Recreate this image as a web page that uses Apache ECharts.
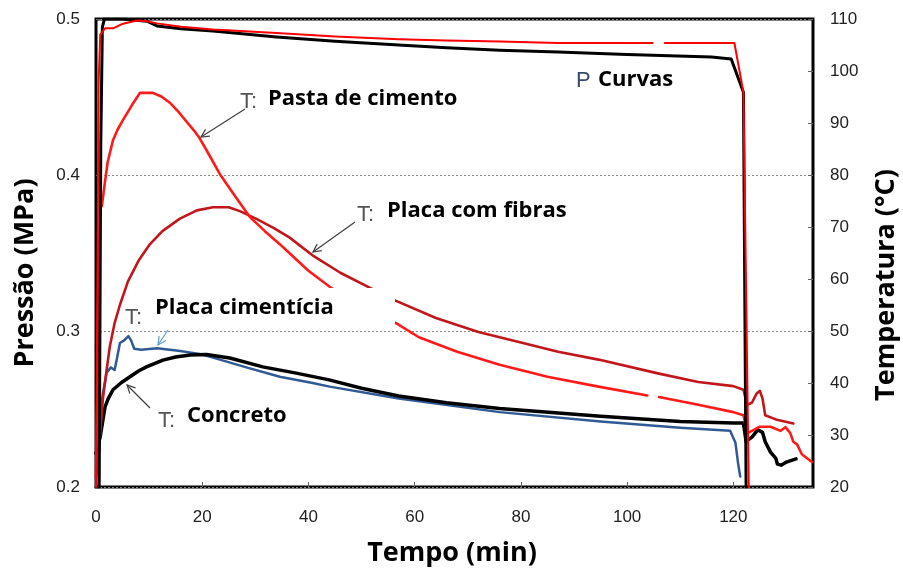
<!DOCTYPE html>
<html>
<head>
<meta charset="utf-8">
<script src="https://cdn.jsdelivr.net/npm/echarts@6/dist/echarts.min.js"></script>
<style>
  html, body { margin: 0; padding: 0; background: #fff; }
  #chart { width: 903px; height: 576px; }
</style>
</head>
<body>
<div id="chart"></div>
<script>
// Axis ranges / tick labels
const tempoTicks = [0, 20, 40, 60, 80, 100, 120];
const tempoMax = 135;
const pressaoTicks = [0.2, 0.3, 0.4, 0.5];
const temperaturaTicks = [20, 30, 40, 50, 60, 70, 80, 90, 100, 110];

// P curves: [tempo (min), pressão (MPa)]
const pressaoPreta = [
  [0, 0.2], [0.6, 0.2], [0.9, 0.42], [1.2, 0.495], [1.6, 0.5], [5, 0.5], [9.6, 0.4986],
  [11.5, 0.4955], [16, 0.4938], [22, 0.4923], [34, 0.4885], [45, 0.4858], [57, 0.4833],
  [66, 0.4815], [76, 0.48], [87, 0.4788], [100, 0.4772], [115.9, 0.4756], [119.6, 0.4744],
  [121.9, 0.453], [122.4, 0.2]
];
const pressaoVermelha = [
  [0, 0.2], [0.3, 0.35], [0.5, 0.46], [0.8, 0.49], [1.7, 0.494], [3.2, 0.494], [5.1, 0.497],
  [7.7, 0.499], [9.6, 0.4986], [11.5, 0.4972], [16, 0.495], [22, 0.4932], [34, 0.491],
  [45, 0.4888], [57, 0.487], [66, 0.4862], [76, 0.4855], [87, 0.4846], [104.8, 0.4846],
  [105.9, '-'], [107.1, 0.4846], [120.2, 0.4846], [121.9, 0.453], [122.9, 0.2]
];

// T curves: [tempo (min), temperatura (°C)]
const pastaCimento = [
  [0, 22], [0.3, 40], [0.5, 62], [0.8, 75], [1.1, 74], [1.6, 78], [2.2, 82.5], [3.2, 86.7],
  [4.1, 88.8], [5.1, 90.6], [6.8, 93.5], [8.3, 95.8], [10.7, 95.8], [12.3, 95.1], [13.9, 93.9],
  [15.5, 92.2], [17.1, 90.2], [18.5, 88.5], [19.5, 87.1], [21.4, 83.7], [23.3, 80.2],
  [26, 76.2], [28.9, 72], [31.8, 69.2], [34.6, 66.7], [36.4, 65], [40, 61.6], [44, 58.5],
  [50, 54.5], [56.5, 51.5], [60.8, 48.8], [68, 46], [76, 43.5], [85, 41.2], [94.6, 39.3],
  [103.8, 37.6], [104.9, '-'], [106, 37.3], [113.4, 35.8], [120, 34.4], [121.9, 33.8],
  [122.6, 30.3], [123.5, 30.8], [125, 31.6], [127, 31.6], [128.9, 30.8], [129.8, 31.5],
  [130.7, 30.4], [131.3, 28.7], [132, 28.2], [132.9, 26.3], [134.8, 24.8]
];
const placaFibras = [
  [0, 22], [0.5, 26], [0.9, 32], [1.3, 37], [2, 42.5], [2.6, 47], [3.5, 51.5], [4.5, 55],
  [6, 59.5], [8, 63.5], [10, 66.5], [12.5, 69.2], [15.8, 71.6], [19, 73.2], [22, 73.8],
  [25, 73.8], [27.2, 73], [30.3, 71.5], [33.5, 69.8], [36.4, 68], [40.7, 64.6], [46, 61.2],
  [51.6, 58.3], [56.5, 55.8], [64, 52.5], [72, 49.8], [80, 47.8], [87, 46], [94.6, 44.5],
  [106, 41.8], [113.4, 40.2], [120, 39.4], [121.9, 38.7], [122.6, 35.8], [123.5, 36.2],
  [124.4, 38], [125, 38.5], [125.5, 37], [126, 33.8], [128, 33], [131.3, 32.2]
];
const placaCimenticia = [
  [0, 25], [0.3, 29], [0.8, 34], [1.3, 38], [2, 42], [2.8, 43], [3.5, 42.5], [4, 45],
  [4.5, 47.7], [5.3, 48.2], [6.1, 49], [6.6, 48.2], [7.2, 46.6], [8.5, 46.4], [11.5, 46.7],
  [15.5, 46.2], [19.5, 45.6], [23, 44.6], [28.3, 43], [34.6, 41.2], [40.8, 40], [44, 39.3],
  [57, 37], [76, 34.4], [95, 32.6], [110, 31.4], [119.4, 30.8], [120.4, 28.5], [120.9, 24.5],
  [121.3, 22]
];
const concreto = [
  [0, 26.5], [0.3, 27.7], [0.8, 29.7], [1.7, 35.4], [2.3, 37], [3.2, 38.7], [4.8, 40.1],
  [6.4, 41.2], [8, 42.3], [9.5, 43.1], [12.6, 44.4], [15, 45], [17.7, 45.4], [20.8, 45.5],
  [25.2, 44.8], [31.4, 43.1], [37.7, 41.9], [43.9, 40.6], [50, 39], [57, 37.5], [66, 36.2],
  [76, 35.1], [95, 33.6], [110, 32.6], [120, 32.3], [121.9, 32.3], [122.4, 28.8], [123.5, 29.6],
  [124.6, 31], [125.5, 30.5], [126, 28.7], [127, 26.7], [128, 25.5], [128.3, 24.4], [129, 24.2],
  [130, 24.8], [131.8, 25.4]
];

const labelFont = { fontFamily: 'Liberation Sans', fontSize: 17, color: '#222' };
const tickStyle = { show: true, inside: true, length: 5, lineStyle: { color: '#666', width: 1 } };

function curve(name, data, color, width, yAxisIndex) {
  return {
    name, type: 'line', data, yAxisIndex,
    showSymbol: false, symbol: 'none', connectNulls: false, clip: true,
    lineStyle: { color, width, join: 'round', cap: 'round' },
    emphasis: { disabled: true }
  };
}

// Annotation arrow: shaft plus open head
function seta(x1, y1, x2, y2, cor, lw) {
  const ang = Math.atan2(y2 - y1, x2 - x1), L = 8, W = 4;
  const bx = x2 - L * Math.cos(ang), by = y2 - L * Math.sin(ang);
  const px = -Math.sin(ang), py = Math.cos(ang);
  return [
    { type: 'line', z: 100, shape: { x1, y1, x2, y2 }, style: { stroke: cor, lineWidth: lw } },
    { type: 'polyline', z: 100,
      shape: { points: [[bx + px * W, by + py * W], [x2, y2], [bx - px * W, by - py * W]] },
      style: { stroke: cor, lineWidth: lw, fill: null } }
  ];
}
function texto(t, x, y, font, fill, align, rot) {
  return { type: 'text', z: 101, x, y, rotation: rot || 0,
    style: { text: t, font, fill, textAlign: align || 'left', textVerticalAlign: 'middle' } };
}
const fontT = '22px "Liberation Sans"';
const fontB = 'bold 22px "Open Sans"';
const fontTitulo = 'bold 27px "Open Sans"';
const corT = '#555';

const chart = echarts.init(document.getElementById('chart'), null, { renderer: 'canvas' });
chart.setOption({
  animation: false,
  backgroundColor: '#fff',
  grid: { left: 96, right: 90, top: 19, bottom: 89, show: true, borderColor: '#000', borderWidth: 3, containLabel: false },
  xAxis: {
    type: 'value', min: tempoTicks[0], max: tempoMax,
    interval: tempoTicks[1] - tempoTicks[0],
    axisLine: { show: false }, axisTick: tickStyle, splitLine: { show: false },
    axisLabel: Object.assign({ margin: 22, showMaxLabel: false,
      formatter: v => (tempoTicks.includes(v) ? String(v) : '') }, labelFont)
  },
  yAxis: [
    {
      type: 'value', position: 'left',
      min: pressaoTicks[0], max: pressaoTicks[pressaoTicks.length - 1], interval: 0.1,
      axisLine: { show: false }, axisTick: tickStyle,
      splitLine: { show: true, lineStyle: { type: [2, 2], color: '#888', width: 1 } },
      axisLabel: Object.assign({ margin: 16, formatter: v => v.toFixed(1) }, labelFont)
    },
    {
      type: 'value', position: 'right',
      min: temperaturaTicks[0], max: temperaturaTicks[temperaturaTicks.length - 1], interval: 10,
      axisLine: { show: false }, axisTick: tickStyle, splitLine: { show: false },
      axisLabel: Object.assign({ margin: 17 }, labelFont)
    }
  ],
  series: [
    curve('T: Placa cimentícia', placaCimenticia, '#2f5a94', 2.5, 1),
    curve('T: Concreto', concreto, '#000000', 3.5, 1),
    curve('T: Placa com fibras', placaFibras, '#c0161c', 2.6, 1),
    curve('T: Pasta de cimento', pastaCimento, '#ff1a1a', 2.6, 1),
    curve('P: preta', pressaoPreta, '#000000', 3, 0),
    curve('P: vermelha', pressaoVermelha, '#ff0000', 2, 0)
  ],
  graphic: [
    // axis titles
    texto('Tempo (min)', 452, 553, fontTitulo, '#000', 'center'),
    texto('Pressão (MPa)', 25, 273, fontTitulo, '#000', 'center', Math.PI / 2),
    texto('Temperatura (°C)', 886, 285, fontTitulo, '#000', 'center', Math.PI / 2),
    // label box over the curves
    { type: 'rect', z: 90, shape: { x: 148, y: 288, width: 247, height: 40 }, style: { fill: '#fff' } },
    // annotations
    texto('T:', 240, 102, fontT, corT), texto('Pasta de cimento', 268, 99, fontB, '#000'),
    texto('P', 576, 81, fontT, '#3a4a6a'), texto('Curvas', 598, 80, fontB, '#000'),
    texto('T:', 357, 215, fontT, corT), texto('Placa com fibras', 387, 211, fontB, '#000'),
    texto('T:', 125, 318, fontT, corT), texto('Placa cimentícia', 155, 308, fontB, '#000'),
    texto('T:', 158, 421, fontT, corT), texto('Concreto', 187, 416, fontB, '#000'),
    ...seta(245, 109, 201, 137, '#404040', 1.2),
    ...seta(355, 222, 313, 252, '#404040', 1.2),
    ...seta(168, 330, 158, 345, '#5b9bd5', 1.2),
    ...seta(150, 408, 127, 385, '#404040', 1.2)
  ]
});
</script>
</body>
</html>
